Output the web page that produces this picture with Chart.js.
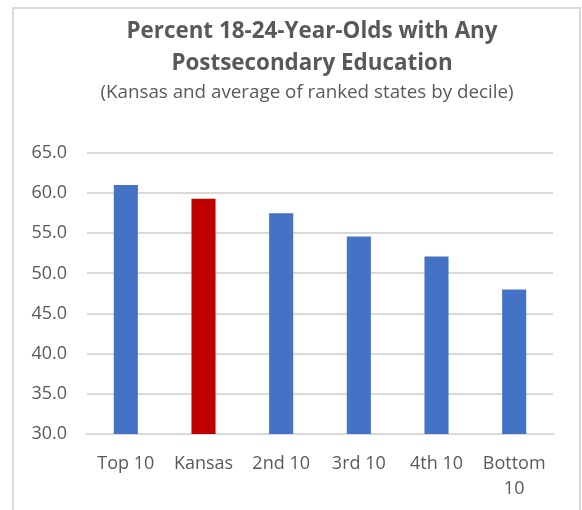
<!DOCTYPE html>
<html lang="en">
<head>
    <meta charset="UTF-8">
    <title>Postsecondary Education by Decile</title>
    <script src="https://cdn.jsdelivr.net/npm/chart.js"></script>
    <style>
        html, body { margin: 0; padding: 0; background: #fff; overflow: hidden; }
        body { font-family: 'Open Sans', sans-serif; color: #595959; }
        .frame {
            position: absolute; left: 12px; top: 7px; width: 569px; height: 520px;
            border: 2px solid #d9d9d9; box-sizing: border-box;
        }
        .chart-title {
            position: absolute; left: 112px; width: 400px; text-align: center;
            top: 14px; font-size: 22.4px; font-weight: bold; line-height: 31.7px;
        }
        .chart-subtitle {
            position: absolute; left: 57px; width: 500px; text-align: center;
            top: 80px; font-size: 18.8px; line-height: 22px;
        }
        .chart-box { position: absolute; left: 0; top: 0; width: 582px; height: 510px; }
    </style>
</head>
<body>
    <div class="frame"></div>
    <div class="chart-box">
        <canvas id="eduChart" width="582" height="510"></canvas>
    </div>
    <div class="chart-title">Percent 18-24-Year-Olds with Any<br>Postsecondary Education</div>
    <div class="chart-subtitle">(Kansas and average of ranked states by decile)</div>

    <script>
        // Kansas vs. average of ranked states, grouped by decile
        const categories = ['Top 10', 'Kansas', '2nd 10', '3rd 10', '4th 10', ['Bottom', '10']];
        const percentValues = [61.0, 59.3, 57.5, 54.6, 52.1, 48.0];
        const barColors = ['#4472C4', '#C00000', '#4472C4', '#4472C4', '#4472C4', '#4472C4'];
        const yTicks = [30, 35, 40, 45, 50, 55, 60, 65];

        const textGray = '#595959';
        const fontFamily = "'Open Sans', sans-serif";

        const ctx = document.getElementById('eduChart').getContext('2d');
        const eduChart = new Chart(ctx, {
            type: 'bar',
            data: {
                labels: categories,
                datasets: [{
                    data: percentValues,
                    backgroundColor: barColors,
                    borderWidth: 0,
                    categoryPercentage: 1.0,
                    barPercentage: 0.31
                }]
            },
            options: {
                responsive: false,
                animation: false,
                layout: { padding: { left: 0, right: 29, top: 153, bottom: 0 } },
                plugins: {
                    legend: { display: false },
                    tooltip: { enabled: false }
                },
                scales: {
                    x: {
                        grid: { display: false },
                        border: { color: '#d9d9d9', width: 2 },
                        ticks: {
                            color: textGray,
                            font: { family: fontFamily, size: 18, lineHeight: 1.39 },
                            padding: 9,
                            maxRotation: 0,
                            autoSkip: false
                        },
                        afterFit: (scale) => { scale.height = 76; }
                    },
                    y: {
                        min: 30,
                        max: 65,
                        afterBuildTicks: (scale) => { scale.ticks = yTicks.map(v => ({ value: v })); },
                        grid: { color: '#d9d9d9', lineWidth: 2, drawTicks: false },
                        border: { display: false },
                        ticks: {
                            color: textGray,
                            font: { family: fontFamily, size: 18 },
                            padding: 20,
                            callback: (v) => Number(v).toFixed(1)
                        },
                        afterFit: (scale) => { scale.width = 87; }
                    }
                }
            }
        });
    </script>
</body>
</html>
